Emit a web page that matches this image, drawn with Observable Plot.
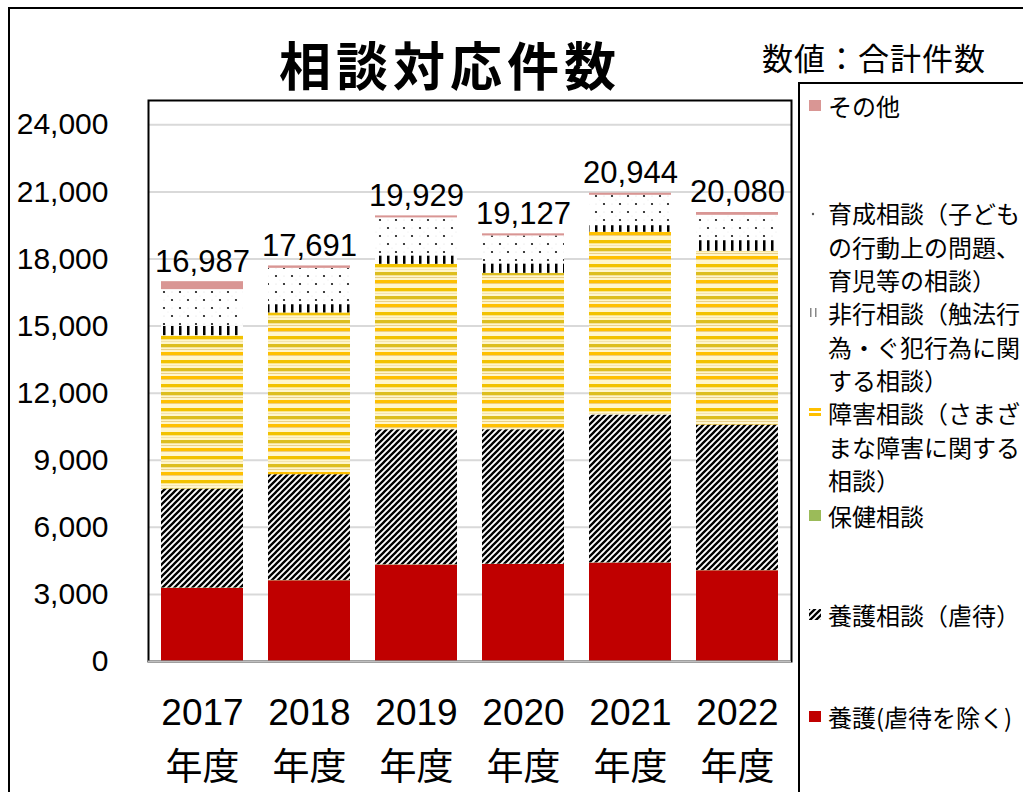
<!DOCTYPE html>
<html>
<head>
<meta charset="utf-8">
<script src="https://cdn.jsdelivr.net/npm/d3@7"></script>
<script src="https://cdn.jsdelivr.net/npm/@observablehq/plot@0.6"></script>
<style>
  html, body { margin: 0; padding: 0; background: #fff; }
  #wrap { position: relative; width: 1023px; height: 792px; overflow: hidden; background: #fff;
          font-family: "Noto Sans CJK JP", sans-serif; color: #000; }
  #chart { position: absolute; left: 0; top: 0; }
  .box { position: absolute; border: 2px solid #000; background: transparent; pointer-events: none; }
  #title { position: absolute; left: 250px; top: 32px; width: 400px; text-align: center;
           font-size: 52px; font-weight: 700; letter-spacing: 5px; line-height: 64px; white-space: nowrap; }
  #sub { position: absolute; left: 762px; top: 37px; font-size: 31px; line-height: 40px; white-space: nowrap; letter-spacing: 1px; }
  .item { position: absolute; left: 809px; font-size: 24px; line-height: 33.5px; white-space: nowrap; }
  .item svg { position: absolute; left: 0; top: 11px; }
  .item .t { position: absolute; left: 19px; top: 0; }
</style>
</head>
<body>
<svg width="0" height="0" style="position:absolute">
  <defs>
    <pattern id="pHatch" patternUnits="userSpaceOnUse" width="6" height="6">
      <rect width="6" height="6" fill="#fff"/>
      <path d="M-1,1 L1,-1 M0,6 L6,0 M5,7 L7,5" stroke="#000" stroke-width="2.3"/>
    </pattern>
    <pattern id="pYellow" patternUnits="userSpaceOnUse" width="10" height="24">
      <rect width="10" height="24" fill="#FFF6CC"/>
      <rect y="0" width="10" height="3" fill="#F2C200"/>
      <rect y="3" width="10" height="1" fill="#FBE58A"/>
      <rect y="5" width="10" height="1" fill="#F3E3B0"/>
      <rect y="8" width="10" height="3" fill="#DDBE1E"/>
      <rect y="11" width="10" height="1" fill="#F5E29A"/>
      <rect y="13" width="10" height="1" fill="#EAD08A"/>
      <rect y="16" width="10" height="3" fill="#FFC000"/>
      <rect y="19" width="10" height="1" fill="#EFCF80"/>
    </pattern>
    <pattern id="pTicks" patternUnits="userSpaceOnUse" width="8" height="8">
      <rect width="8" height="8" fill="#fff"/>
      <rect x="3" y="0" width="2.5" height="8" fill="#000"/>
    </pattern>
    <pattern id="pDots" patternUnits="userSpaceOnUse" width="16" height="16">
      <rect width="16" height="16" fill="#fff"/>
      <circle cx="4" cy="4" r="1.1" fill="#111"/>
      <circle cx="12" cy="12" r="1.1" fill="#111"/>
      <circle cx="12" cy="4" r="0.6" fill="#ddd"/>
      <circle cx="4" cy="12" r="0.6" fill="#ddd"/>
      <circle cx="8" cy="8" r="0.5" fill="#e6e6e6"/>
    </pattern>
  </defs>
</svg>
<div id="wrap">
  <div id="chart"></div>
  <div class="box" style="left:8px; top:7px; width:1100px; height:900px;"></div>
  <div class="box" style="left:798px; top:82px; width:400px; height:800px;"></div>
  <div id="title">相談対応件数</div>
  <div id="sub">数値：合計件数</div>
  <div id="legend"></div>
</div>
<script>
// ---- data ----
const years = ["2017", "2018", "2019", "2020", "2021", "2022"];
const yogo     = [3266, 3611, 4313, 4340, 4403, 4058];  // 養護（虐待を除く）
const hoken    = [20, 15, 15, 12, 10, 10];              // 保健相談
const gyakutai = [4428, 4727, 6039, 6015, 6611, 6509];  // 養護相談（虐待）
const shogai   = [6859, 7235, 7396, 6993, 8171, 7768];  // 障害相談
const hiko     = [416, 372, 376, 421, 299, 478];        // 非行相談
const ikusei   = [1642, 1624, 1700, 1252, 1356, 1132];  // 育成相談
const sonota   = [356, 107, 90, 94, 94, 125];           // その他
const totals   = [16987, 17691, 19929, 19127, 20944, 20080];
const yTicks   = [0, 3000, 6000, 9000, 12000, 15000, 18000, 21000, 24000];
const seriesNames = ["養護(虐待を除く)", "保健相談", "養護相談(虐待)", "障害相談", "非行相談", "育成相談", "その他"];
const seriesFills = ["#C00000", "#9BBB59", "url(#pHatch)", "url(#pYellow)", "url(#pTicks)", "url(#pDots)", "#D99694"];
const seriesValues = [yogo, hoken, gyakutai, shogai, hiko, ikusei, sonota];

const rows = [];
seriesNames.forEach((name, i) => {
  years.forEach((yr, j) => rows.push({year: yr, key: name, fill: seriesFills[i], value: seriesValues[i][j]}));
});
const totalRows = years.map((yr, j) => ({year: yr, total: totals[j]}));

const fmt = d3.format(",");
const numFont = '"Liberation Sans", "Noto Sans CJK JP", sans-serif';

const chart = Plot.plot({
  width: 1023,
  height: 792,
  marginLeft: 148,
  marginRight: 232,
  marginTop: 100,
  marginBottom: 131,
  style: {fontFamily: numFont, background: "transparent", color: "#000"},
  x: {domain: years, paddingInner: 0.235, paddingOuter: 0.1175, axis: null},
  y: {domain: [0, 25090], axis: null},
  color: {type: "identity"},
  marks: [
    Plot.ruleY(yTicks.slice(1), {stroke: "#D9D9D9", strokeWidth: 2}),
    Plot.barY(rows, {x: "year", y: "value", z: "key", fill: "fill", order: null}),
    Plot.text(totalRows, {x: "year", y: "total", text: d => fmt(d.total), dy: -20, fontSize: 31, fill: "#000"}),
    Plot.axisY(yTicks, {tickSize: 0, tickPadding: 40, fontSize: 30, tickFormat: fmt, label: null}),
    Plot.text(years, {x: d => d, frameAnchor: "bottom", dy: 63, text: d => d, fontSize: 37, fill: "#000"}),
    Plot.text(years, {x: d => d, frameAnchor: "bottom", dy: 118, text: () => "年度", fontSize: 37, fill: "#000",
                      fontFamily: '"Noto Sans CJK JP", sans-serif'}),
    Plot.frame({stroke: "#000", strokeWidth: 2}),
    Plot.ruleY([0], {stroke: "#BFBFBF", strokeWidth: 2})
  ]
});
document.getElementById("chart").appendChild(chart);

// ---- legend ----
const legendItems = [
  {text: "その他", center: 106, marker: '<rect x="0" y="0" width="12" height="11" fill="#D99694"/>'},
  {text: "育成相談（子ども<br>の行動上の問題、<br>育児等の相談）", center: 213, marker: '<circle cx="4" cy="7" r="1.2" fill="#555"/>'},
  {text: "非行相談（触法行<br>為・ぐ犯行為に関<br>する相談）", center: 313, marker: '<rect x="1" y="1" width="1.5" height="9" fill="#888"/><rect x="6" y="1" width="1.5" height="9" fill="#888"/>'},
  {text: "障害相談（さまざ<br>まな障害に関する<br>相談）", center: 413, marker: '<rect x="0" y="1" width="12" height="3" fill="#FFC000"/><rect x="0" y="6" width="12" height="3" fill="#FFC000"/>'},
  {text: "保健相談", center: 516, marker: '<rect x="0" y="0" width="12" height="11" fill="#9BBB59"/>'},
  {text: "養護相談（虐待）", center: 615, marker: '<rect x="0" y="0" width="12" height="11" fill="url(#pHatch)"/>'},
  {text: "養護(虐待を除く)", center: 717, marker: '<rect x="0" y="0" width="12" height="11" fill="#C00000"/>'}
];
const lg = document.getElementById("legend");
legendItems.forEach(it => {
  const div = document.createElement("div");
  div.className = "item";
  div.style.top = (it.center - 16.75) + "px";
  div.innerHTML = `<svg width="13" height="12">${it.marker}</svg><div class="t">${it.text}</div>`;
  lg.appendChild(div);
});
</script>
</body>
</html>
